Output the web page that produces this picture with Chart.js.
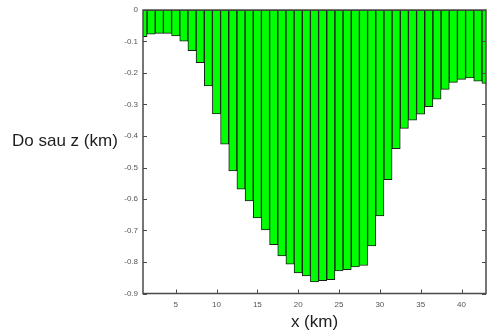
<!DOCTYPE html>
<html>
<head>
<meta charset="utf-8">
<script src="https://cdn.jsdelivr.net/npm/chart.js@4/dist/chart.umd.min.js"></script>
<style>
  html, body { margin: 0; padding: 0; background: #fff; }
  #wrap { width: 487px; height: 333px; }
</style>
</head>
<body>
<div id="wrap"><canvas id="doSauChart" width="487" height="333"></canvas></div>
<script>
// vi tri x (km) va do sau z (km) doc tu hinh
const xViTri = [1, 2, 3, 4, 5, 6, 7, 8, 9, 10, 11, 12, 13, 14, 15, 16, 17, 18, 19, 20, 21, 22,
  23, 24, 25, 26, 27, 28, 29, 30, 31, 32, 33, 34, 35, 36, 37, 38, 39, 40, 41, 42, 43];
const doSau = [-0.085, -0.077, -0.074, -0.074, -0.082, -0.099, -0.129, -0.167, -0.241, -0.33,
  -0.426, -0.511, -0.569, -0.606, -0.66, -0.698, -0.745, -0.781, -0.807, -0.835, -0.844, -0.863,
  -0.859, -0.856, -0.828, -0.824, -0.816, -0.811, -0.749, -0.654, -0.539, -0.44, -0.376, -0.35,
  -0.331, -0.307, -0.283, -0.252, -0.23, -0.22, -0.216, -0.226, -0.233];
const xTicks = [5, 10, 15, 20, 25, 30, 35, 40];
const yTicks = [0, -0.1, -0.2, -0.3, -0.4, -0.5, -0.6, -0.7, -0.8, -0.9];

const khung = {
  id: 'khung',
  afterDatasetsDraw(chart) {
    const { ctx, chartArea: a, scales: { x, y } } = chart;
    ctx.save();
    // khung truc
    ctx.strokeStyle = '#4a4a4a';
    ctx.lineWidth = 1.5;
    ctx.strokeRect(a.left, a.top, a.right - a.left, a.bottom - a.top);
    // vach chia huong vao trong
    ctx.lineWidth = 1;
    ctx.beginPath();
    xTicks.forEach(v => {
      const px = Math.round(x.getPixelForValue(v)) + 0.5;
      ctx.moveTo(px, a.bottom);
      ctx.lineTo(px, a.bottom - 4);
    });
    yTicks.forEach(v => {
      const py = Math.round(y.getPixelForValue(v)) + 0.5;
      ctx.moveTo(a.left, py);
      ctx.lineTo(a.left + 4, py);
      ctx.moveTo(a.right, py);
      ctx.lineTo(a.right - 4, py);
    });
    ctx.stroke();
    // nhan truc
    ctx.fillStyle = '#1e1e1e';
    ctx.font = '17px Arial, "Liberation Sans", sans-serif';
    ctx.textBaseline = 'middle';
    ctx.textAlign = 'left';
    ctx.fillText('Do sau z (km)', 12, 141);
    ctx.textAlign = 'center';
    ctx.fillText('x (km)', (a.left + a.right) / 2, 322);
    ctx.restore();
  }
};

new Chart(document.getElementById('doSauChart').getContext('2d'), {
  type: 'bar',
  data: {
    datasets: [{
      data: xViTri.map((v, i) => ({ x: v, y: doSau[i] })),
      backgroundColor: '#00ff00',
      borderColor: '#1a1a1a',
      borderWidth: 1,
      borderSkipped: false,
      barPercentage: 1,
      categoryPercentage: 1,
      clip: 0
    }]
  },
  options: {
    responsive: false,
    animation: false,
    layout: { padding: { top: 10, right: 1, left: 0, bottom: 0 } },
    plugins: { legend: { display: false }, tooltip: { enabled: false } },
    scales: {
      x: {
        type: 'linear',
        min: 1,
        max: 43,
        offset: false,
        afterFit: s => { s.height = 39.5; },
        afterBuildTicks: s => { s.ticks = xTicks.map(v => ({ value: v })); },
        grid: { display: false, drawTicks: false },
        border: { display: false },
        ticks: {
          padding: 6,
          color: '#555',
          font: { size: 8, family: 'Arial, "Liberation Sans", sans-serif' },
          maxRotation: 0,
          autoSkip: false
        }
      },
      y: {
        min: -0.9,
        max: 0,
        afterFit: s => { s.width = 143; },
        afterBuildTicks: s => { s.ticks = yTicks.map(v => ({ value: v })); },
        grid: { display: false, drawTicks: false },
        border: { display: false },
        ticks: {
          padding: 5,
          color: '#555',
          font: { size: 8, family: 'Arial, "Liberation Sans", sans-serif' },
          callback: v => v === 0 ? '0' : v.toFixed(1)
        }
      }
    }
  },
  plugins: [khung]
});
</script>
</body>
</html>
